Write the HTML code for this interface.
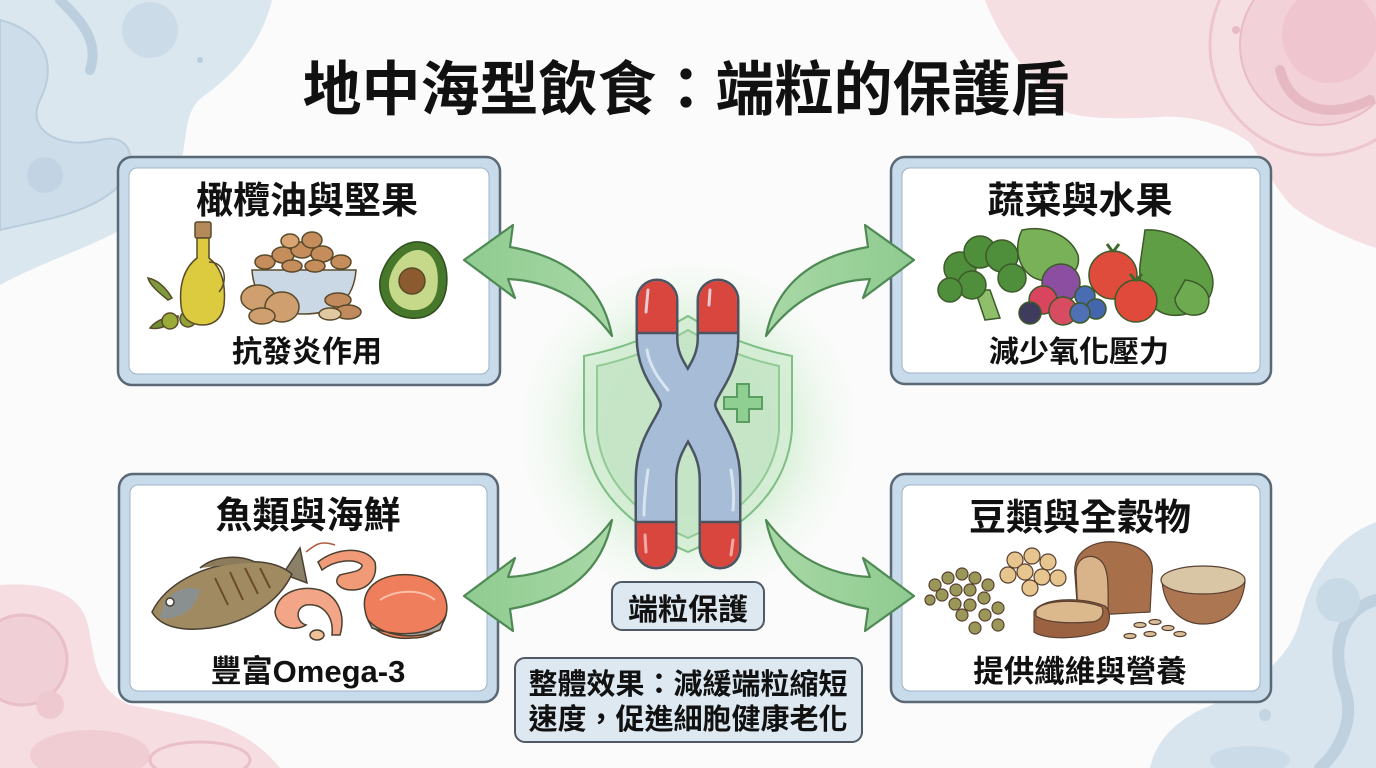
<!DOCTYPE html>
<html><head><meta charset="utf-8"><style>
html,body{margin:0;padding:0;background:#fafafa;}
svg{display:block;}
text{font-family:"Liberation Sans","Noto Sans CJK TC","Noto Sans CJK SC",sans-serif;font-weight:700;fill:#111;}
</style></head><body>
<svg width="1376" height="768" viewBox="0 0 1376 768" xmlns="http://www.w3.org/2000/svg">
<defs>
<radialGradient id="glow" cx="688" cy="430" r="190" gradientUnits="userSpaceOnUse">
<stop offset="0" stop-color="#a5daa6" stop-opacity="0.95"/>
<stop offset="0.5" stop-color="#c6eac6" stop-opacity="0.7"/>
<stop offset="1" stop-color="#ffffff" stop-opacity="0"/>
</radialGradient>
<linearGradient id="arrowg" x1="0" y1="0" x2="1" y2="0">
<stop offset="0" stop-color="#8fcb90"/><stop offset="1" stop-color="#a8d8a6"/>
</linearGradient>
<clipPath id="topc"><rect x="600" y="250" width="180" height="83"/></clipPath>
<clipPath id="botc"><rect x="600" y="522" width="180" height="70"/></clipPath>
<path id="arrow" d="M612,336 Q598,262 510,247 L513,225 L464,260 L515,298 L508,279 Q572,282 612,336 Z"/>
<path id="chl" d="M657,300 L657,338 C657,372 681,385 681,405 C681,425 656,440 656,480 L656,548"/>
<path id="chr" d="M718,300 L718,338 C718,372 695,385 695,405 C695,425 720,440 720,480 L720,548"/>
</defs>

<rect width="1376" height="768" fill="#fbfbfb"/>

<!-- background blobs -->
<g>
<path d="M0,0 L272,0 C262,40 240,70 205,95 C175,115 195,160 165,195 C130,238 60,252 0,285 Z" fill="#dbe7ef"/>
<path d="M0,20 C40,30 60,60 40,100 C25,130 60,150 100,140 C130,132 140,160 120,185 C90,215 40,220 0,230 Z" fill="#cddde9" stroke="#b9cddd" stroke-width="2"/>
<path d="M60,0 C80,20 100,40 90,70" fill="none" stroke="#bccfdf" stroke-width="10" stroke-linecap="round"/>
<circle cx="150" cy="30" r="28" fill="#cbdbe8"/>
<circle cx="45" cy="175" r="18" fill="#c2d4e3"/>
<circle cx="200" cy="60" r="3" fill="#b9cddd"/>

<path d="M985,0 L1376,0 L1376,248 C1340,236 1310,220 1293,207 C1275,190 1262,160 1250,143 C1220,120 1180,115 1160,117 C1110,120 1075,118 1063,110 C1030,80 1000,40 985,0 Z" fill="#f6dfe3"/>
<circle cx="1320" cy="45" r="110" fill="none" stroke="#ecc5cd" stroke-width="3"/>
<circle cx="1320" cy="45" r="80" fill="#f2d2d8" stroke="#e8bcc5" stroke-width="2"/>
<circle cx="1330" cy="35" r="48" fill="#efc6cf"/>
<path d="M1280,70 C1290,110 1330,120 1370,100" fill="none" stroke="#e6b9c2" stroke-width="10" stroke-linecap="round"/>
<circle cx="1236" cy="30" r="4" fill="#e6bcc4"/>

<path d="M0,585 C40,582 80,590 88,625 C95,660 95,690 130,705 C180,715 240,718 280,768 L0,768 Z" fill="#f6dde2"/>
<circle cx="22" cy="660" r="45" fill="#f1cfd6" stroke="#e8bfc7" stroke-width="3"/>
<circle cx="50" cy="705" r="14" fill="#efc9d0"/>
<ellipse cx="90" cy="755" rx="60" ry="25" fill="#f0ccd3"/>
<ellipse cx="200" cy="760" rx="50" ry="18" fill="none" stroke="#e9c0c8" stroke-width="3"/>

<path d="M1376,522 C1330,540 1310,580 1300,620 C1290,660 1250,690 1200,710 C1170,725 1155,745 1150,768 L1376,768 Z" fill="#d8e5ee"/>
<path d="M1376,600 C1340,610 1330,650 1345,690 C1355,720 1340,750 1320,768" fill="none" stroke="#bfd1df" stroke-width="12" stroke-linecap="round"/>
<circle cx="1338" cy="600" r="22" fill="#c9dae7"/>
<circle cx="1265" cy="715" r="6" fill="#c3d5e3"/>
<ellipse cx="1250" cy="760" rx="40" ry="14" fill="#cbdbe7"/>
</g>

<!-- title -->
<text x="686" y="110" font-size="59" text-anchor="middle">地中海型飲食：端粒的保護盾</text>

<!-- boxes -->
<g stroke-width="2.5">
<rect x="118" y="157" width="382" height="228" rx="14" fill="#c8dbea" stroke="#5b6875"/>
<rect x="129" y="168" width="360" height="206" rx="8" fill="#fff" stroke="#9fb3c6" stroke-width="1"/>
<rect x="891" y="157" width="380" height="227" rx="14" fill="#c8dbea" stroke="#5b6875"/>
<rect x="902" y="168" width="358" height="205" rx="8" fill="#fff" stroke="#9fb3c6" stroke-width="1"/>
<rect x="119" y="474" width="379" height="228" rx="14" fill="#c8dbea" stroke="#5b6875"/>
<rect x="130" y="485" width="357" height="206" rx="8" fill="#fff" stroke="#9fb3c6" stroke-width="1"/>
<rect x="891" y="474" width="380" height="228" rx="14" fill="#c8dbea" stroke="#5b6875"/>
<rect x="902" y="485" width="358" height="206" rx="8" fill="#fff" stroke="#9fb3c6" stroke-width="1"/>
</g>

<text x="307" y="213" font-size="37" text-anchor="middle">橄欖油與堅果</text>
<text x="307" y="362" font-size="30" text-anchor="middle">抗發炎作用</text>
<text x="1080" y="213" font-size="37" text-anchor="middle">蔬菜與水果</text>
<text x="1079" y="362" font-size="30" text-anchor="middle">減少氧化壓力</text>
<text x="308" y="528" font-size="37" text-anchor="middle">魚類與海鮮</text>
<text x="308" y="682" font-size="31" text-anchor="middle">豐富Omega-3</text>
<text x="1080" y="530" font-size="37" text-anchor="middle">豆類與全穀物</text>
<text x="1080" y="682" font-size="30.5" text-anchor="middle">提供纖維與營養</text>

<!-- Box 1 foods -->
<g stroke="#5a4a2a" stroke-width="1.5">
<path d="M168,300 C158,292 150,285 148,278 C158,280 166,288 172,298 Z" fill="#7d9a3c"/>
<path d="M178,318 C168,326 158,330 150,328 C156,320 168,316 178,316 Z" fill="#6f8f34"/>
<circle cx="170" cy="321" r="8" fill="#9aab3a"/>
<circle cx="188" cy="319" r="8" fill="#8ea236"/>
<rect x="195" y="222" width="16" height="16" rx="2" fill="#b58a5a"/>
<path d="M197,238 L209,238 L209,258 C222,268 226,285 224,305 C222,320 212,325 203,325 C192,325 182,320 181,305 C179,285 184,268 197,258 Z" fill="#dccb3e"/>
<path d="M209,262 C226,262 228,282 219,292" fill="none"/>
<path d="M252,270 L356,270 C354,300 335,314 304,314 C272,314 254,300 252,270 Z" fill="#c9d8e4"/>
<g fill="#c58c5c">
<ellipse cx="265" cy="262" rx="10" ry="7"/><ellipse cx="283" cy="255" rx="11" ry="8"/><ellipse cx="302" cy="250" rx="11" ry="8"/>
<ellipse cx="322" cy="254" rx="11" ry="8"/><ellipse cx="341" cy="262" rx="10" ry="7"/><ellipse cx="292" cy="266" rx="10" ry="6"/>
<ellipse cx="315" cy="266" rx="10" ry="6"/><ellipse cx="312" cy="240" rx="10" ry="8"/><ellipse cx="290" cy="241" rx="9" ry="7" fill="#d9a572"/>
</g>
<g fill="#cf9f70">
<ellipse cx="258" cy="298" rx="17" ry="13"/><ellipse cx="282" cy="307" rx="17" ry="15"/><ellipse cx="262" cy="316" rx="13" ry="8"/>
</g>
<g fill="#c08a5c">
<ellipse cx="338" cy="300" rx="13" ry="7"/><ellipse cx="348" cy="312" rx="13" ry="7"/><ellipse cx="330" cy="314" rx="11" ry="6" fill="#e0c8a0"/>
</g>
<path d="M420,242 C440,244 450,265 446,290 C442,310 428,320 410,318 C390,316 378,300 380,280 C383,262 400,240 420,242 Z" fill="#46772a" stroke="#2f4f1d"/>
<path d="M419,250 C435,252 440,270 437,290 C434,305 424,311 411,310 C396,308 388,296 389,282 C391,266 405,249 419,250 Z" fill="#c6d98a" stroke="none"/>
<circle cx="412" cy="281" r="13" fill="#8b5a2e"/>
</g>

<!-- Box 2 foods -->
<g stroke="#3d5a2a" stroke-width="1.5">
<path d="M1022,230 C1045,225 1070,235 1078,255 C1082,275 1060,285 1040,280 C1020,275 1012,250 1022,230 Z" fill="#79b158"/>
<path d="M1145,230 C1175,228 1205,250 1212,275 C1218,300 1195,318 1170,315 C1150,312 1138,290 1140,265 Z" fill="#5f9e45"/>
<path d="M1185,280 C1205,282 1215,298 1205,312 C1192,320 1175,312 1175,298 Z" fill="#6eaa50"/>
<path d="M975,290 L990,290 L1000,318 L985,320 Z" fill="#8fbf6a"/>
<g fill="#4f8e3a">
<circle cx="960" cy="268" r="16"/><circle cx="980" cy="252" r="16"/><circle cx="1002" cy="256" r="16"/>
<circle cx="1012" cy="278" r="14"/><circle cx="972" cy="285" r="14"/><circle cx="950" cy="290" r="12"/>
</g>
<circle cx="1061" cy="283" r="19" fill="#8c4ea0"/>
<circle cx="1043" cy="300" r="14" fill="#d9445e"/>
<circle cx="1063" cy="311" r="14" fill="#d84c62"/>
<circle cx="1030" cy="313" r="11" fill="#3e3b5c"/>
<circle cx="1085" cy="296" r="10" fill="#4a6cb3"/>
<circle cx="1096" cy="309" r="10" fill="#4466ad"/>
<circle cx="1080" cy="313" r="10" fill="#4f70b5"/>
<circle cx="1113" cy="275" r="24" fill="#e04c3c"/>
<circle cx="1136" cy="301" r="21" fill="#df4a3a"/>
<path d="M1113,252 l-6,-8 M1113,252 l6,-8 M1136,281 l-6,-7 M1136,281 l6,-7" stroke="#3d6a2a" stroke-width="3"/>
</g>

<!-- Box 3 foods -->
<g stroke="#4a4030" stroke-width="1.5">
<path d="M300,548 L307,583 L283,574 Z" fill="#8a8068"/>
<path d="M152,612 C165,585 200,565 245,562 C270,560 285,568 292,574 C280,600 250,622 210,628 C180,632 160,626 152,612 Z" fill="#a08a62"/>
<path d="M200,568 C215,555 240,555 255,562" fill="#8c7c5c"/>
<path d="M165,600 C175,590 190,585 200,590 C195,610 180,620 160,618 Z" fill="#8a9090" stroke="none"/>
<circle cx="170" cy="602" r="4" fill="#fff"/>
<g stroke="#6a4a2a" stroke-width="2" fill="none">
<path d="M215,578 L228,605"/><path d="M230,572 L243,600"/><path d="M245,568 L258,594"/><path d="M260,568 L270,588"/>
</g>
<path d="M318,562 C335,548 365,545 375,562 C378,578 368,590 352,590 C340,590 332,582 340,575 C350,572 362,572 362,565 C355,558 335,560 322,570 Z" fill="#f19a78"/>
<path d="M306,552 C315,545 320,540 335,545" fill="none" stroke="#b05a40"/>
<path d="M275,612 C278,592 300,585 320,590 C338,596 346,615 340,635 L332,635 C334,615 322,603 306,605 C295,608 296,622 306,625 C295,632 277,628 275,612 Z" fill="#f3a588"/>
<ellipse cx="317" cy="635" rx="7" ry="5" fill="#f0c098"/>
<path d="M365,610 C360,585 385,572 412,575 C440,578 450,598 446,615 C442,630 430,638 412,638 C390,640 368,632 365,610 Z" fill="#ee7e5c"/>
<path d="M368,620 C380,634 410,642 440,630 L446,615 C440,632 405,640 372,628 Z" fill="#a8a8a8"/>
<path d="M380,600 C395,590 420,588 435,600" fill="none" stroke="#f8c0a8" stroke-width="2"/>
</g>

<!-- Box 4 foods -->
<g stroke="#5a4030" stroke-width="1.2">
<g fill="#9a9858">
<circle cx="935" cy="585" r="6"/><circle cx="948" cy="578" r="6"/><circle cx="962" cy="574" r="6"/><circle cx="975" cy="578" r="6"/>
<circle cx="988" cy="585" r="6"/><circle cx="942" cy="595" r="6"/><circle cx="956" cy="590" r="6"/><circle cx="970" cy="590" r="6"/>
<circle cx="984" cy="598" r="6"/><circle cx="955" cy="604" r="6"/><circle cx="970" cy="605" r="6"/><circle cx="962" cy="615" r="6"/>
<circle cx="985" cy="615" r="6"/><circle cx="998" cy="608" r="6"/><circle cx="975" cy="628" r="6"/><circle cx="998" cy="625" r="6"/><circle cx="930" cy="600" r="5"/>
</g>
<g fill="#e7c58e">
<circle cx="1015" cy="560" r="8"/><circle cx="1032" cy="556" r="8"/><circle cx="1048" cy="562" r="8"/><circle cx="1008" cy="575" r="8"/>
<circle cx="1025" cy="572" r="8"/><circle cx="1042" cy="577" r="8"/><circle cx="1058" cy="578" r="8"/><circle cx="1030" cy="588" r="8"/>
</g>
<path d="M1075,575 C1072,550 1095,540 1115,542 C1140,544 1155,555 1152,575 L1150,612 L1078,616 Z" fill="#a8704a"/>
<path d="M1076,572 C1076,558 1090,552 1100,560 C1110,568 1108,590 1108,616 L1078,616 Z" fill="#d9b48a"/>
<path d="M1034,612 C1040,598 1080,596 1105,606 C1112,612 1110,625 1104,630 C1080,640 1045,640 1034,632 Z" fill="#9a6240"/>
<path d="M1036,610 C1042,600 1080,598 1102,607 C1105,615 1100,622 1090,622 C1065,624 1045,622 1036,616 Z" fill="#dcb98d"/>
<path d="M1162,582 C1165,612 1185,624 1203,624 C1223,624 1242,612 1245,582 Z" fill="#ad7653"/>
<ellipse cx="1203" cy="580" rx="42" ry="14" fill="#d8c6a4"/>
<g fill="#d9c09a"><ellipse cx="1140" cy="625" rx="6" ry="2.5"/><ellipse cx="1155" cy="622" rx="6" ry="2.5"/><ellipse cx="1168" cy="628" rx="6" ry="2.5"/><ellipse cx="1150" cy="634" rx="6" ry="2.5"/><ellipse cx="1180" cy="634" rx="6" ry="2.5"/><ellipse cx="1130" cy="636" rx="6" ry="2.5"/></g>
</g>

<!-- center glow -->
<ellipse cx="688" cy="430" rx="200" ry="200" fill="url(#glow)"/>

<!-- arrows -->
<g fill="url(#arrowg)" stroke="#4f8a55" stroke-width="2.2" stroke-linejoin="round">
<use href="#arrow"/>
<use href="#arrow" transform="translate(1378,0) scale(-1,1)"/>
<use href="#arrow" transform="translate(0,856) scale(1,-1)"/>
<use href="#arrow" transform="translate(1378,856) scale(-1,-1)"/>
</g>

<!-- shield -->
<path d="M688,316 Q640,345 584,356 L584,430 Q590,510 688,552 Q786,510 792,430 L792,356 Q736,345 688,316 Z" fill="#d3ecd3" fill-opacity="0.85" stroke="#7fbf85" stroke-width="2"/>
<path d="M688,330 Q644,356 597,366 L597,430 Q603,500 688,538 Q773,500 779,430 L779,366 Q732,356 688,330 Z" fill="#c2e4c3" fill-opacity="0.8" stroke="#93cb97" stroke-width="2"/>
<path d="M737,384 h12 v13 h13 v12 h-13 v13 h-12 v-13 h-13 v-12 h13 Z" fill="#8fcf92" stroke="#5a9d60" stroke-width="2"/>

<!-- chromosome -->
<g fill="none" stroke-linecap="round">
<use href="#chl" stroke="#4a5561" stroke-width="43"/>
<use href="#chr" stroke="#4a5561" stroke-width="43"/>
<use href="#chl" stroke="#a6bcd7" stroke-width="38"/>
<use href="#chr" stroke="#a6bcd7" stroke-width="38"/>
<g clip-path="url(#topc)">
<use href="#chl" stroke="#d8463e" stroke-width="38"/>
<use href="#chr" stroke="#d8463e" stroke-width="38"/>
</g>
<g clip-path="url(#botc)">
<use href="#chl" stroke="#d8463e" stroke-width="38"/>
<use href="#chr" stroke="#d8463e" stroke-width="38"/>
</g>
<path d="M638,333 L676,333 M699,333 L737,333 M636,522 L676,522 M700,522 L740,522" stroke="#4a5561" stroke-width="2.5" stroke-linecap="butt"/>
<path d="M648,290 L646,312 M710,290 L709,305 M647,350 C650,368 660,380 668,390 M648,470 C645,490 644,505 644,515 M731,470 C734,490 734,500 733,510" stroke="#e6eef7" stroke-width="3" stroke-opacity="0.8"/>
<path d="M645,535 L646,552 M733,540 L731,555" stroke="#f3a8a3" stroke-width="3"/>
</g>

<!-- center labels -->
<rect x="612" y="582" width="152" height="48" rx="10" fill="#dde8f1" stroke="#4f5a66" stroke-width="2"/>
<text x="688" y="620" font-size="30" text-anchor="middle">端粒保護</text>
<rect x="515" y="658" width="347" height="84" rx="10" fill="#dde8f1" stroke="#4f5a66" stroke-width="2"/>
<text x="688" y="694" font-size="29" text-anchor="middle">整體效果：減緩端粒縮短</text>
<text x="688" y="729" font-size="29" text-anchor="middle">速度，促進細胞健康老化</text>
</svg>
</body></html>
